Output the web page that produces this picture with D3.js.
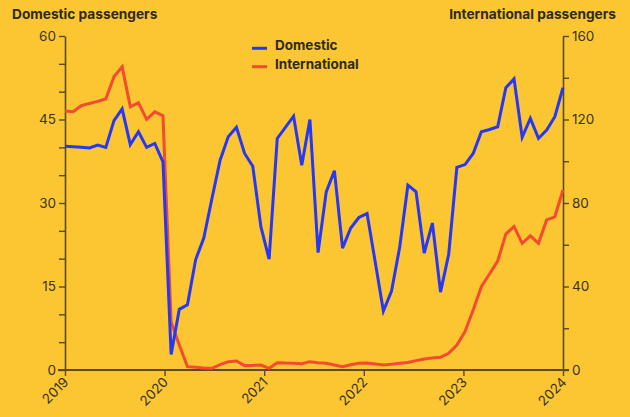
<!DOCTYPE html>
<html><head><meta charset="utf-8">
<script src="https://cdn.jsdelivr.net/npm/d3@7"></script>
<style>
html,body{margin:0;padding:0;background:#FBC632;}
svg{display:block;}
text{font-family:Inter,"Open Sans",sans-serif;}
</style></head>
<body>
<script>
// Monthly observations, Jan 2019 onward (62 evenly spaced points)
const domestic = [40.2,40.1,40.0,39.9,40.4,40.0,44.8,46.9,40.5,42.8,40.0,40.7,37.4,2.8,10.9,11.7,19.8,23.7,30.8,37.7,
  41.9,43.6,38.9,36.6,25.7,19.9,41.6,43.6,45.6,36.8,45.0,21.1,32.0,35.8,21.9,25.5,27.4,28.1,19.4,10.6,
  14.2,22.1,33.2,32.0,21.0,26.4,14.0,20.8,36.4,36.9,38.9,42.8,43.2,43.7,50.7,52.3,41.8,45.2,41.6,43.1,45.5,50.7];
const international = [124.1,123.7,126.6,127.7,128.7,129.8,140.5,145.3,126.1,128.0,120.1,123.7,121.8,23.0,12.0,1.6,1.3,1.0,0.8,2.6,
  4.0,4.3,2.1,2.2,2.4,0.8,3.5,3.3,3.2,3.0,4.0,3.5,3.2,2.4,1.6,2.5,3.2,3.4,2.9,2.4,
  2.8,3.2,3.6,4.5,5.3,5.7,6.1,8.0,12.0,18.4,28.7,39.9,46.0,52.2,65.1,68.8,60.7,64.3,60.7,71.9,73.4,86.2];
const years = [2019,2020,2021,2022,2023,2024];
const leftTicks = d3.range(0,61,5), leftLabels = [0,15,30,45,60];
const rightTicks = d3.range(0,161,20), rightLabels = [0,40,80,120,160];
const seriesNames = ["Domestic","International"];
const colors = ["#2638F5","#F24B30"];

const W=630,H=417, L=65, R=563, T=36, B=370;
const svg = d3.select("body").append("svg").attr("width",W).attr("height",H);
svg.append("rect").attr("width",W).attr("height",H).attr("fill","#FBC632");

const xi = d3.scaleLinear().domain([0, domestic.length-1]).range([L,R]);
const xYear = d3.scaleLinear().domain([years[0], years[years.length-1]]).range([L,R]);
const yL = d3.scaleLinear().domain([0,60]).range([B,T]);
const yR = d3.scaleLinear().domain([0,160]).range([B,T]);
const axisColor="#5a4a22", textColor="#3a3424";

// left axis
const gl = svg.append("g").attr("transform",`translate(${L},0)`)
  .call(d3.axisLeft(yL).tickValues(leftTicks).tickSize(6).tickSizeOuter(0)
    .tickFormat(d=>leftLabels.includes(d)?d:""));
// right axis
const gr = svg.append("g").attr("transform",`translate(${R},0)`)
  .call(d3.axisRight(yR).tickValues(rightTicks).tickSize(6).tickSizeOuter(0)
    .tickFormat(d=>rightLabels.includes(d)?d:""));
[gl,gr].forEach(g=>{
  g.select(".domain").attr("stroke",axisColor).attr("stroke-width",1.6);
  g.selectAll(".tick line").attr("stroke",axisColor).attr("stroke-width",1.4);
  g.selectAll(".tick text").attr("fill",textColor).attr("font-size",13.5).attr("font-family","Inter");
});
gl.selectAll(".tick text").attr("x",-9);
gr.selectAll(".tick text").attr("x",9);

// bottom axis
const gb = svg.append("g").attr("transform",`translate(0,${B})`)
  .call(d3.axisBottom(xYear).tickValues(years).tickFormat(d3.format("d")).tickSize(6).tickSizeOuter(0));
gb.select(".domain").remove();
gb.append("line").attr("x1",L-7).attr("x2",R+6).attr("stroke",axisColor).attr("stroke-width",2.2);
gb.selectAll(".tick line").attr("stroke",axisColor).attr("stroke-width",1.4);
gb.selectAll(".tick text").attr("fill",textColor).attr("font-size",13.5).attr("font-family","Inter")
  .attr("text-anchor","end").attr("dy",0).attr("y",0)
  .attr("transform","translate(4,13) rotate(-45)");

// lines
const lineD = d3.line().x((d,i)=>xi(i)).y(d=>yL(d));
const lineI = d3.line().x((d,i)=>xi(i)).y(d=>yR(d));
svg.append("path").datum(international).attr("d",lineI).attr("fill","none")
  .attr("stroke",colors[1]).attr("stroke-width",3).attr("stroke-linejoin","miter");
svg.append("path").datum(domestic).attr("d",lineD).attr("fill","none")
  .attr("stroke",colors[0]).attr("stroke-width",3).attr("stroke-linejoin","miter");

// titles
svg.append("text").attr("x",12).attr("y",18.5).text("Domestic passengers")
  .attr("font-weight",700).attr("font-size",13.7).attr("fill","#2f2a1c");
svg.append("text").attr("x",616).attr("y",18.5).attr("text-anchor","end").text("International passengers")
  .attr("font-weight",700).attr("font-size",13.7).attr("fill","#2f2a1c");

// legend
const lg = svg.append("g").attr("transform","translate(252,48.3)");
seriesNames.forEach((n,k)=>{
  lg.append("line").attr("x1",0).attr("x2",15).attr("y1",k*18.4).attr("y2",k*18.4)
    .attr("stroke",colors[k]).attr("stroke-width",3);
  lg.append("text").attr("x",23).attr("y",k*18.4+2).text(n)
    .attr("font-weight",700).attr("font-size",13.5).attr("fill","#2f2a1c");
});
</script>
</body></html>
